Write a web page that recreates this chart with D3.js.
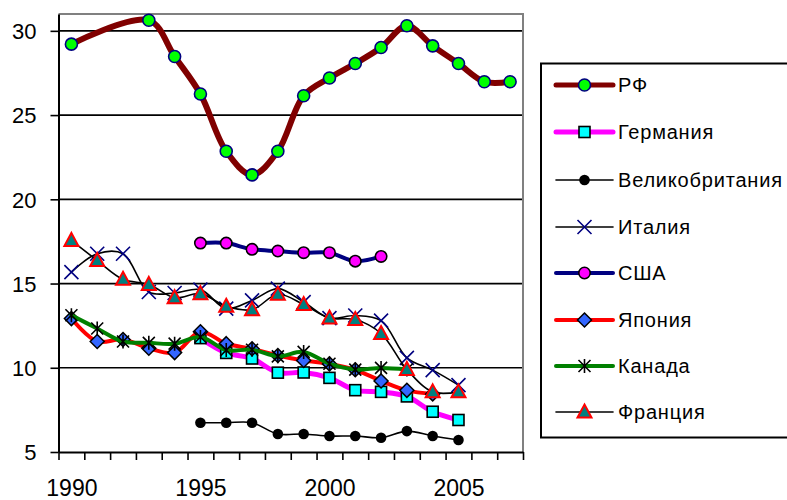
<!DOCTYPE html>
<html><head><meta charset="utf-8">
<script src="https://cdn.jsdelivr.net/npm/d3@7"></script>
<style>body{margin:0;background:#fff}svg{display:block}</style>
</head><body>
<svg id="chart" width="787" height="500"></svg>
<script>
const years = [1990,1991,1992,1993,1994,1995,1996,1997,1998,1999,2000,2001,2002,2003,2004,2005,2006,2007];
const yTicks = [5,10,15,20,25,30];
const xLabels = [1990,1995,2000,2005];
const N = null;
const rf      = [29.21,N,N,30.63,28.48,26.25,22.85,21.45,22.85,26.15,27.2,28.06,29.01,30.3,29.11,28.06,26.98,26.98];
const germany = [N,N,N,N,N,11.76,10.88,10.55,9.71,9.72,9.4,8.67,8.57,8.3,7.39,6.9,N,N];
const uk      = [N,N,N,N,N,6.74,6.74,6.74,6.07,6.07,5.95,5.95,5.85,6.24,5.95,5.71,N,N];
const italy   = [15.68,16.77,16.77,14.5,14.44,14.64,13.51,14.0,14.7,13.9,12.95,13.1,12.8,10.59,9.86,8.97,N,N];
const usa     = [N,N,N,N,N,17.4,17.4,17.03,16.93,16.83,16.83,16.33,16.61,N,N,N,N,N];
const japan   = [12.92,11.56,11.68,11.16,10.9,12.14,11.43,11.13,10.73,10.43,10.23,9.88,9.22,8.66,8.45,N,N,N];
const canada  = [13.12,12.33,11.56,11.48,11.43,11.83,11.05,11.07,10.68,10.94,10.24,9.89,9.99,9.9,N,N,N,N];
const france  = [17.56,16.37,15.25,14.95,14.16,14.4,13.65,13.45,14.36,13.75,12.95,12.86,12.03,9.9,8.57,8.57,N,N];

const seriesNames = ["РФ","Германия","Великобритания","Италия","США","Япония","Канада","Франция"];
const seriesData = [rf,germany,uk,italy,usa,japan,canada,france];
const lineColors = ["#800000","#FF00FF","#000000","#000000","#000080","#FF0000","#008000","#000000"];
const lineWidths = [6,5,1.6,1.6,4,4,4,1.6];
const legendWidths = [5,5,1.6,1.6,4,4,4,1.6];
const markerTypes = ["circleRF","square","dot","x","circleUS","diamond","star","triangle"];

const svg = d3.select("#chart");
const L = 58.5, R = 523, T = 14, B = 452;
const x = d3.scaleLinear().domain([1989.5, 2007.5]).range([L, R]);
const y = d3.scaleLinear().domain([5, 31]).range([B, T]);
const font = "Arial, 'Liberation Sans', sans-serif";

// gridlines
svg.append("g").selectAll("line").data(yTicks.filter(d => d > 5)).join("line")
  .attr("x1", L).attr("x2", R).attr("y1", d => y(d)).attr("y2", d => y(d))
  .attr("stroke", "#000").attr("stroke-width", 1.7);
// top/right border
svg.append("path").attr("d", `M${L},${T}H${R}V${B}`).attr("fill","none").attr("stroke","#808080").attr("stroke-width",2);

// y axis
const yAxis = svg.append("g").attr("transform", `translate(${L},0)`)
  .call(d3.axisLeft(y).tickValues(yTicks).tickSize(8).tickPadding(14).tickSizeOuter(0));
yAxis.select(".domain").attr("stroke","#000").attr("stroke-width",2);
yAxis.selectAll(".tick line").attr("stroke","#000").attr("stroke-width",1.6);
yAxis.selectAll("text").attr("font-family", font).attr("font-size", 22).attr("fill","#000").attr("dy","0.36em");

// x axis ticks at category boundaries
const bounds = d3.range(1989.5, 2008, 1);
const xAxis = svg.append("g").attr("transform", `translate(0,${B})`)
  .call(d3.axisBottom(x).tickValues(bounds).tickSize(8).tickFormat("").tickSizeOuter(0));
xAxis.select(".domain").attr("stroke","#000").attr("stroke-width",2);
xAxis.selectAll(".tick line").attr("stroke","#000").attr("stroke-width",1.6);
const xLab = svg.append("g").attr("transform", `translate(0,${B})`)
  .call(d3.axisBottom(x).tickValues(xLabels).tickSize(0).tickPadding(28).tickFormat(d3.format("d")));
xLab.select(".domain").remove();
xLab.selectAll("text").attr("font-family", font).attr("font-size", 23).attr("fill","#000");

function drawMarker(g, type, cx, cy) {
  const m = g.append("g").attr("transform", `translate(${cx},${cy})`);
  switch (type) {
    case "circleRF": m.append("circle").attr("r",6).attr("fill","#00FF00").attr("stroke","#000080").attr("stroke-width",1.6); break;
    case "square": m.append("rect").attr("x",-5.5).attr("y",-5.5).attr("width",11).attr("height",11).attr("fill","#00FFFF").attr("stroke","#000").attr("stroke-width",1.6); break;
    case "dot": m.append("circle").attr("r",5.3).attr("fill","#000"); break;
    case "x": m.append("path").attr("d","M-7,-7L7,7M-7,7L7,-7").attr("stroke","#000080").attr("stroke-width",1.6); break;
    case "circleUS": m.append("circle").attr("r",5.7).attr("fill","#FF00FF").attr("stroke","#000").attr("stroke-width",1.6); break;
    case "diamond": m.append("path").attr("d","M0,-7L7,0L0,7L-7,0Z").attr("fill","#3366FF").attr("stroke","#000").attr("stroke-width",1.5); break;
    case "star": m.append("path").attr("d","M0,-7V7M-6,-6L6,6M-6,6L6,-6").attr("stroke","#000").attr("stroke-width",1.6); break;
    case "triangle": m.append("path").attr("d","M0,-7.5L7,5.5L-7,5.5Z").attr("fill","#008080").attr("stroke","#FF0000").attr("stroke-width",2); break;
  }
}

const line = d3.line().x(d => x(d[0])).y(d => y(d[1])).curve(d3.curveCatmullRom.alpha(0.5));

seriesData.forEach((vals, i) => {
  const pts = years.map((yr, j) => [yr, vals[j]]).filter(p => p[1] != null);
  const g = svg.append("g");
  g.append("path").datum(pts).attr("d", line).attr("fill","none")
    .attr("stroke", lineColors[i]).attr("stroke-width", lineWidths[i]).attr("stroke-linejoin","round").attr("stroke-linecap","round");
  pts.forEach(p => drawMarker(g, markerTypes[i], x(p[0]), y(p[1])));
});

// legend
const lg = svg.append("g");
lg.append("rect").attr("x",541).attr("y",63.5).attr("width",260).attr("height",374).attr("fill","#fff").attr("stroke","#000").attr("stroke-width",2);
const legY = [85,132,180,227,273,320,366,412];
seriesNames.forEach((name, i) => {
  const g = lg.append("g");
  g.append("line").attr("x1",556).attr("x2",613).attr("y1",legY[i]).attr("y2",legY[i])
    .attr("stroke", lineColors[i]).attr("stroke-width", legendWidths[i]).attr("stroke-linecap","round");
  drawMarker(g, markerTypes[i], 584.5, legY[i]);
  g.append("text").attr("x",618).attr("y",legY[i]).attr("dy","0.36em")
    .attr("font-family", font).attr("font-size", 20).attr("letter-spacing", "0.8px").attr("fill","#000").text(name);
});
</script>
</body></html>
